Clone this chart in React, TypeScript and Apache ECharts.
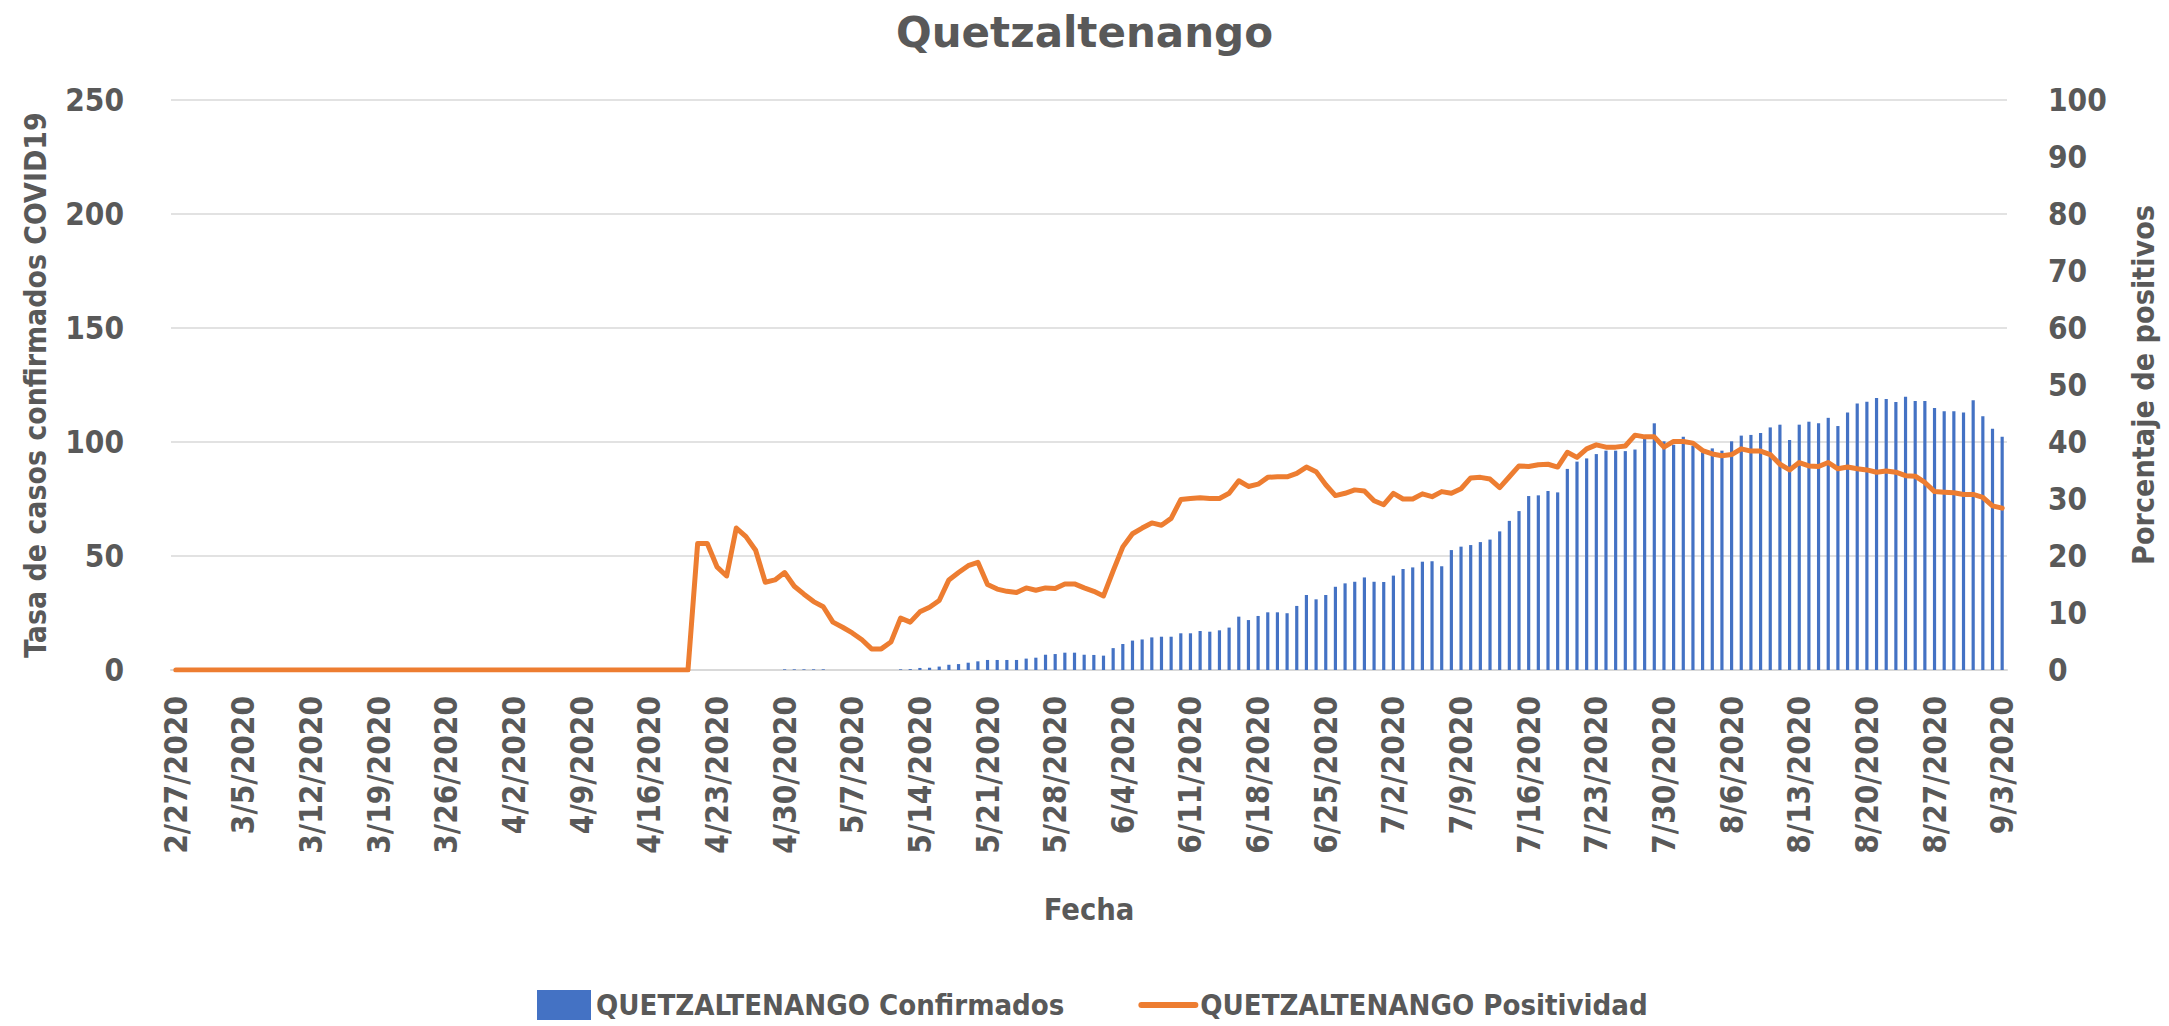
import React, { useEffect, useRef } from "react";
import * as echarts from "echarts";

// ---------- DATA ----------
const START_DATE = [2020, 2, 27]; // 2/27/2020
const N_DAYS = 190; // through 9/3/2020

const categories: string[] = (() => {
  const out: string[] = [];
  const d = new Date(START_DATE[0], START_DATE[1] - 1, START_DATE[2], 12);
  for (let i = 0; i < N_DAYS; i++) {
    out.push(`${d.getMonth() + 1}/${d.getDate()}/${d.getFullYear()}`);
    d.setDate(d.getDate() + 1);
  }
  return out;
})();

const confirmados: number[] = [
  0, 0, 0, 0, 0, 0, 0, 0, 0, 0,
  0, 0, 0, 0, 0, 0, 0, 0, 0, 0,
  0, 0, 0, 0, 0, 0, 0, 0, 0, 0,
  0, 0, 0, 0, 0, 0, 0, 0, 0, 0,
  0, 0, 0, 0, 0, 0, 0, 0, 0, 0,
  0, 0, 0, 0, 0, 0, 0, 0, 0, 0,
  0, 0, 0, 0.3, 0.3, 0.3, 0.3, 0.3, 0, 0,
  0, 0, 0, 0, 0, 0.3, 0.4, 0.9, 1.0, 1.5,
  2.3, 2.6, 3.2, 3.8, 4.4, 4.4, 4.4, 4.4, 5.0, 5.4,
  6.7, 7.0, 7.6, 7.6, 6.7, 6.6, 6.3, 9.6, 11.4, 12.9,
  13.4, 14.3, 14.6, 14.6, 16.1, 16.1, 17.1, 16.8, 17.4, 18.6,
  23.4, 21.9, 23.7, 25.3, 25.3, 24.9, 28.1, 32.9, 31.0, 32.9,
  36.5, 38.0, 38.7, 40.6, 38.7, 38.6, 41.4, 44.3, 45.0, 47.5,
  47.7, 45.5, 52.6, 54.1, 54.8, 56.1, 57.2, 60.8, 65.4, 69.7,
  76.3, 76.6, 78.5, 77.9, 88.2, 91.4, 92.8, 94.7, 96.2, 96.2,
  96.0, 96.7, 101.3, 108.2, 100.3, 98.8, 102.3, 98.4, 95.5, 97.2,
  96.2, 100.3, 102.8, 103.1, 103.9, 106.4, 107.6, 100.9, 107.6, 108.9,
  108.2, 110.6, 107.0, 112.9, 116.9, 117.7, 119.3, 118.9, 117.5, 119.9,
  118.0, 118.0, 114.9, 113.5, 113.5, 112.9, 118.3, 111.3, 105.8, 102.3,
];

const positividad: number[] = [
  0, 0, 0, 0, 0, 0, 0, 0, 0, 0,
  0, 0, 0, 0, 0, 0, 0, 0, 0, 0,
  0, 0, 0, 0, 0, 0, 0, 0, 0, 0,
  0, 0, 0, 0, 0, 0, 0, 0, 0, 0,
  0, 0, 0, 0, 0, 0, 0, 0, 0, 0,
  0, 0, 0, 0, 22.2, 22.2, 18.1, 16.5, 24.9, 23.4,
  21.0, 15.4, 15.8, 17.1, 14.7, 13.3, 12.0, 11.1, 8.4, 7.5,
  6.5, 5.3, 3.7, 3.7, 4.9, 9.1, 8.4, 10.2, 11.0, 12.2,
  15.8, 17.1, 18.3, 18.9, 15.0, 14.2, 13.8, 13.6, 14.4, 14.0,
  14.4, 14.3, 15.1, 15.1, 14.4, 13.8, 13.0, 17.4, 21.6, 23.9,
  24.9, 25.8, 25.4, 26.6, 29.9, 30.1, 30.2, 30.1, 30.1, 31.0,
  33.2, 32.2, 32.6, 33.8, 33.9, 33.9, 34.5, 35.6, 34.8, 32.5,
  30.6, 31.0, 31.6, 31.4, 29.7, 29.0, 31.0, 30.0, 30.0, 30.9,
  30.4, 31.3, 31.0, 31.8, 33.7, 33.8, 33.5, 32.0, 33.9, 35.8,
  35.7, 36.0, 36.1, 35.6, 38.2, 37.3, 38.8, 39.5, 39.1, 39.1,
  39.3, 41.2, 40.9, 40.9, 39.1, 40.1, 40.1, 39.8, 38.5, 37.9,
  37.6, 37.8, 38.8, 38.4, 38.4, 37.8, 36.1, 35.1, 36.4, 35.8,
  35.7, 36.4, 35.3, 35.6, 35.3, 35.1, 34.7, 34.9, 34.7, 34.1,
  34.0, 32.9, 31.3, 31.2, 31.1, 30.8, 30.8, 30.3, 28.8, 28.4,
];

const leftAxisTicks = { min: 0, max: 250, interval: 50 };
const rightAxisTicks = { min: 0, max: 100, interval: 10 };

const TITLE = "Quetzaltenango";
const SERIES_BAR = "QUETZALTENANGO Confirmados";
const SERIES_LINE = "QUETZALTENANGO Positividad";
const Y_LEFT_NAME = "Tasa de casos confirmados COVID19";
const Y_RIGHT_NAME = "Porcentaje de positivos";
const X_NAME = "Fecha";

// ---------- STYLE ----------
const TEXT = "#595959";
const BAR_COLOR = "#4472C4";
const LINE_COLOR = "#ED7D31";
const GRID_COLOR = "#D9D9D9";

function detectFont(): { family: string; k: number } {
  try {
    const ctx = document.createElement("canvas").getContext("2d");
    if (!ctx) return { family: "Liberation Sans Narrow", k: 1 };
    const s = "QUETZALTENANGO 0123456789 abc";
    ctx.font = "bold 100px monospace";
    const base = ctx.measureText(s).width;
    const cands = ["Liberation Sans Narrow", "Arial Narrow", "DejaVu Sans Condensed", "Roboto Condensed", "Roboto"];
    for (const f of cands) {
      ctx.font = `bold 100px "${f}", monospace`;
      if (Math.abs(ctx.measureText(s).width - base) > 1) {
        const w = ctx.measureText("0123456789").width; // target ~456 for narrow font
        const k = Math.min(1, 456 / w);
        return { family: f, k };
      }
    }
  } catch (e) {
    /* ignore */
  }
  return { family: "Roboto", k: 0.82 };
}

export default function App() {
  const ref = useRef<HTMLDivElement>(null);

  useEffect(() => {
    document.body.style.margin = "0";
    document.body.style.overflow = "hidden";
    if (!ref.current) return;
    const { family, k } = detectFont();
    const ff = `"${family}", sans-serif`;
    const fs = (n: number) => Math.round(n * k * 10) / 10;

    const chart = echarts.init(ref.current, null, { renderer: "svg" });
    chart.setOption({
      animation: false,
      backgroundColor: "#ffffff",
      title: {
        text: TITLE,
        left: "center",
        top: 6,
        textStyle: {
          fontFamily: '"DejaVu Sans", sans-serif',
          fontWeight: "bold",
          fontSize: 42,
          color: TEXT,
        },
      },
      grid: { left: 171, right: 162, top: 100, bottom: 356, containLabel: false },
      legend: {
        left: 532,
        top: 985,
        itemWidth: 54,
        itemHeight: 30,
        itemGap: 74,
        textStyle: { fontFamily: ff, fontWeight: "bold", fontSize: fs(40), color: TEXT },
        data: [
          { name: SERIES_BAR, icon: "rect" },
          { name: SERIES_LINE, itemStyle: { opacity: 0 }, lineStyle: { width: 6, color: LINE_COLOR } },
        ],
      },
      xAxis: {
        type: "category",
        data: categories,
        boundaryGap: true,
        name: X_NAME,
        nameLocation: "middle",
        nameGap: 224,
        nameTextStyle: { fontFamily: ff, fontWeight: "bold", fontSize: fs(42), color: TEXT },
        axisLine: { show: true, lineStyle: { color: GRID_COLOR, width: 2 } },
        axisTick: { show: false },
        axisLabel: {
          interval: 6,
          rotate: 90,
          margin: 26,
          fontFamily: ff,
          fontWeight: "bold",
          fontSize: fs(43),
          color: TEXT,
        },
        splitLine: { show: false },
      },
      yAxis: [
        {
          type: "value",
          min: leftAxisTicks.min,
          max: leftAxisTicks.max,
          interval: leftAxisTicks.interval,
          name: Y_LEFT_NAME,
          nameLocation: "middle",
          nameRotate: 90,
          nameGap: 121,
          nameTextStyle: { fontFamily: ff, fontWeight: "bold", fontSize: fs(41), color: TEXT },
          axisLine: { show: false },
          axisTick: { show: false },
          axisLabel: { margin: 47, fontFamily: ff, fontWeight: "bold", fontSize: fs(43), color: TEXT },
          splitLine: { show: true, lineStyle: { color: GRID_COLOR, width: 1.5 } },
        },
        {
          type: "value",
          position: "right",
          min: rightAxisTicks.min,
          max: rightAxisTicks.max,
          interval: rightAxisTicks.interval,
          name: Y_RIGHT_NAME,
          nameLocation: "middle",
          nameRotate: 90,
          nameGap: 121,
          nameTextStyle: { fontFamily: ff, fontWeight: "bold", fontSize: fs(41.5), color: TEXT },
          axisLine: { show: false },
          axisTick: { show: false },
          axisLabel: { margin: 41, fontFamily: ff, fontWeight: "bold", fontSize: fs(43), color: TEXT },
          splitLine: { show: false },
        },
      ],
      series: [
        {
          name: SERIES_BAR,
          type: "bar",
          yAxisIndex: 0,
          data: confirmados,
          barWidth: "33%",
          itemStyle: { color: BAR_COLOR },
        },
        {
          name: SERIES_LINE,
          type: "line",
          yAxisIndex: 1,
          data: positividad,
          symbol: "none",
          showSymbol: false,
          lineStyle: { color: LINE_COLOR, width: 5, cap: "round", join: "round" },
          itemStyle: { color: LINE_COLOR },
          z: 3,
        },
      ],
    });
    return () => chart.dispose();
  }, []);

  return <div ref={ref} style={{ width: 2169, height: 1026, position: "absolute", left: 0, top: 0 }} />;
}
